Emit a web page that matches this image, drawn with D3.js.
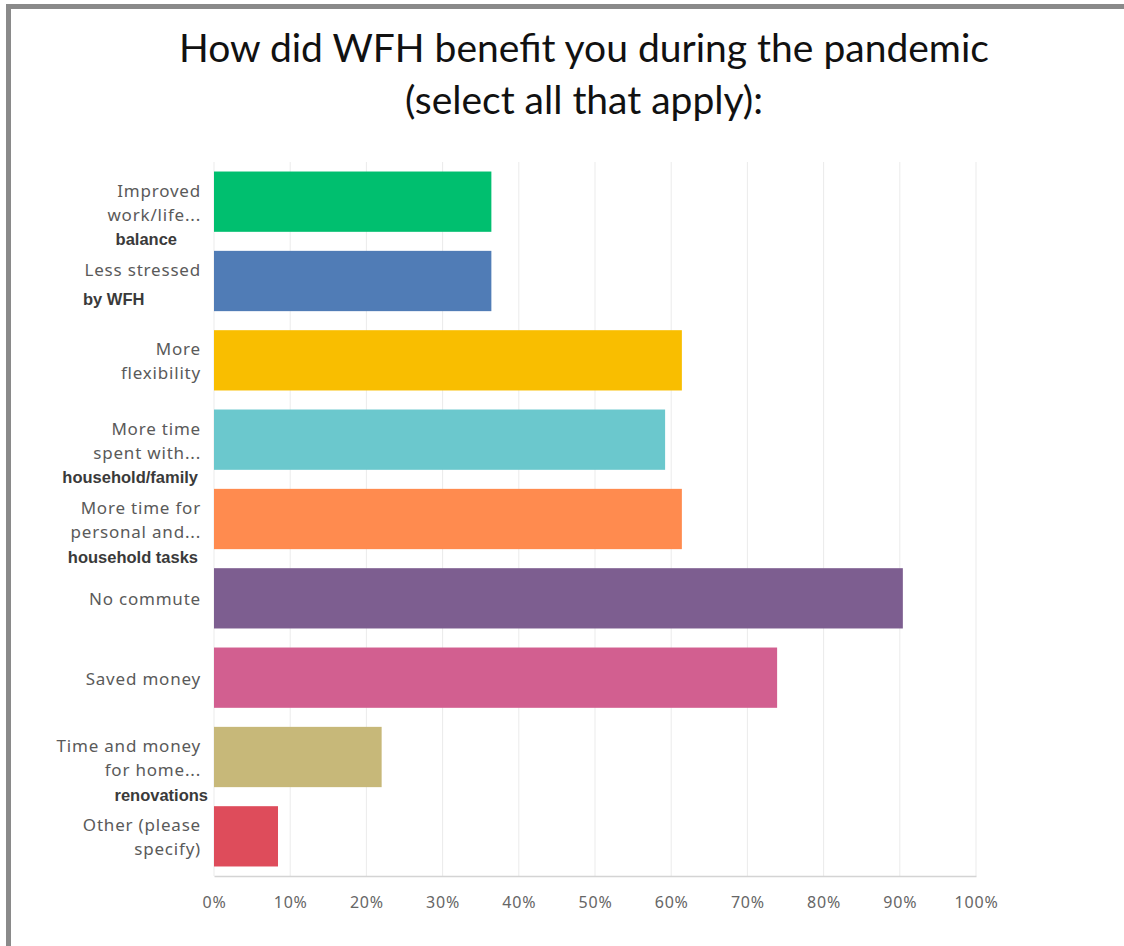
<!DOCTYPE html>
<html>
<head>
<meta charset="utf-8">
<script src="https://cdn.jsdelivr.net/npm/d3@7"></script>
<style>
  body { margin: 0; background: #fff; }
</style>
</head>
<body>
<div id="chart"></div>
<script>
'use strict';

// dados
var categories = ['Improved work/life', 'Less stressed', 'More flexibility', 'More time spent with',
  'More time for personal and', 'No commute', 'Saved money', 'Time and money for home', 'Other (please specify)'];
var labelLines = [
  ['Improved', 'work/life...'],
  ['Less stressed'],
  ['More', 'flexibility'],
  ['More time', 'spent with...'],
  ['More time for', 'personal and...'],
  ['No commute'],
  ['Saved money'],
  ['Time and money', 'for home...'],
  ['Other (please', 'specify)']
];
// linhas coladas por cima (fonte diferente)
var noteLines = ['balance', 'by WFH', null, 'household/family', 'household tasks', null, null, 'renovations', null];
var values = [36.4, 36.4, 61.4, 59.2, 61.4, 90.4, 73.9, 22.0, 8.4];
var colors = ['#00bf6f', '#507cb6', '#f9be00', '#6bc8cd', '#ff8b4f', '#7d5e90', '#d25f90', '#c7b879', '#de4c5b'];
var xTicks = [0, 10, 20, 30, 40, 50, 60, 70, 80, 90, 100];
var titleLines = ['How did WFH benefit you during the pandemic', '(select all that apply):'];

// dimensões
var W = 1124, H = 946;
var plot = {left: 214, right: 976, top: 162, bottom: 876};

var svg = d3.select('#chart').append('svg')
  .attr('width', W)
  .attr('height', H);

svg.append('rect').attr('width', W).attr('height', H).attr('fill', '#fff');

// moldura cinza (só em cima e à esquerda)
svg.append('rect').attr('x', 6).attr('y', 4).attr('width', W - 6).attr('height', 5).attr('fill', '#8a8a8a');
svg.append('rect').attr('x', 6).attr('y', 4).attr('width', 5).attr('height', H - 4).attr('fill', '#8a8a8a');

// título
svg.append('g').selectAll('text')
  .data(titleLines)
  .enter()
  .append('text')
  .attr('x', 584)
  .attr('y', function(d, i) { return 62 + i * 52; })
  .attr('text-anchor', 'middle')
  .style('font-family', 'Lato, "Noto Sans", sans-serif')
  .style('font-size', '39px')
  .attr('fill', '#111')
  .text(function(d) { return d; });

var xScale = d3.scaleLinear().domain([0, 100]).range([plot.left, plot.right]);
var yScale = d3.scaleBand().domain(categories).range([plot.top, plot.bottom])
  .paddingInner(0.24).paddingOuter(0.12);

// grade
svg.append('g').selectAll('line')
  .data(xTicks)
  .enter()
  .append('line')
  .attr('x1', function(d) { return xScale(d); })
  .attr('x2', function(d) { return xScale(d); })
  .attr('y1', plot.top)
  .attr('y2', plot.bottom)
  .attr('stroke', '#ebebeb')
  .attr('stroke-width', 1);

// eixo x
var xAxis = d3.axisBottom(xScale)
  .tickValues(xTicks)
  .tickFormat(function(d) { return d + '%'; })
  .tickSize(0)
  .tickPadding(21);

var xAxisGroup = svg.append('g')
  .attr('transform', 'translate(0,' + plot.bottom + ')')
  .call(xAxis);
xAxisGroup.select('.domain').attr('stroke', '#d4d4d4').attr('stroke-width', 1.5);
xAxisGroup.selectAll('text')
  .style('font-family', '"Noto Sans", sans-serif')
  .style('font-size', '16px')
  .style('letter-spacing', '0.8px')
  .attr('fill', '#666');

// barras
svg.append('g').selectAll('rect')
  .data(values)
  .enter()
  .append('rect')
  .attr('x', xScale(0))
  .attr('y', function(d, i) { return yScale(categories[i]); })
  .attr('width', function(d) { return xScale(d) - xScale(0); })
  .attr('height', yScale.bandwidth())
  .attr('fill', function(d, i) { return colors[i]; });

// rótulos das categorias
var labels = svg.append('g').selectAll('text')
  .data(labelLines)
  .enter()
  .append('text')
  .attr('text-anchor', 'end')
  .style('font-family', '"Noto Sans", sans-serif')
  .style('font-size', '17px')
  .style('letter-spacing', '0.8px')
  .attr('fill', '#5a5a5a');

labels.each(function(lines, i) {
  var cy = yScale(categories[i]) + yScale.bandwidth() / 2;
  var start = (lines.length === 1 && !noteLines[i]) ? 1 : -11;
  d3.select(this).selectAll('tspan')
    .data(lines)
    .enter()
    .append('tspan')
    .attr('x', 201)
    .attr('y', function(d, j) { return cy + start + j * 24; })
    .attr('dy', '0.35em')
    .text(function(d) { return d; });
});

// linhas coladas
var noteOffset = {
  'balance': {dy: 38, x: 177, anchor: 'end'},
  'by WFH': {dy: 18, x: 83, anchor: 'start'},
  'renovations': {dy: 38, x: 208, anchor: 'end'}
};
svg.append('g').selectAll('text')
  .data(noteLines)
  .enter()
  .filter(function(d) { return d !== null; })
  .append('text')
  .attr('x', function(d) { return noteOffset[d] ? noteOffset[d].x : 198; })
  .attr('y', function(d) {
    var i = noteLines.indexOf(d);
    var cy = yScale(categories[i]) + yScale.bandwidth() / 2;
    return cy + (noteOffset[d] ? noteOffset[d].dy : 38);
  })
  .attr('dy', '0.35em')
  .attr('text-anchor', function(d) { return noteOffset[d] ? noteOffset[d].anchor : 'end'; })
  .style('font-family', '"Liberation Sans", Arial, sans-serif')
  .style('font-size', '16.5px')
  .style('font-weight', 'bold')
  .attr('fill', '#3a3a3a')
  .text(function(d) { return d; });
</script>
</body>
</html>
